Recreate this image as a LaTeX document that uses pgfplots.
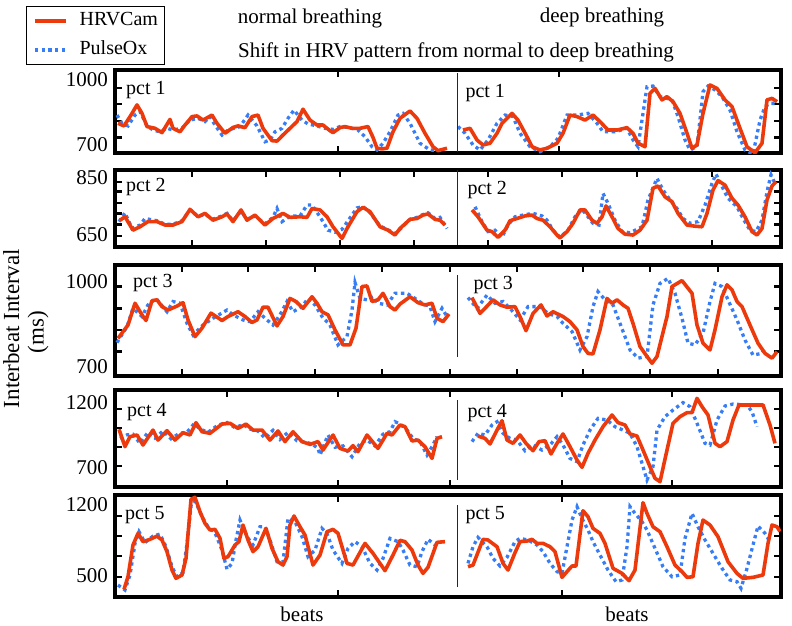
\documentclass[border=0pt]{standalone}
\usepackage{pgfplots}
\pgfplotsset{compat=1.18}
\usepackage{fontspec}
\setmainfont{Liberation Serif}
\definecolor{hrvred}{RGB}{236,58,12}
\definecolor{poxblue}{RGB}{55,125,245}
\newcommand{\fs}{\fontsize{21}{25}\selectfont}
\newcommand{\fsl}{\fontsize{20}{24}\selectfont}
\newcommand{\fsy}{\fontsize{23}{27}\selectfont}
\pgfplotsset{
 panel/.style={
  scale only axis, width=666pt, xmin=0, xmax=666,
  axis line style={line width=3.2pt, black, line cap=rect},
  tick style={line width=2.4pt, black},
  major tick length=7pt,
  xticklabels={}, yticklabels={},
  yticklabel pos=left,
  extra y tick style={tick style={draw=none}},
  tick label style={font=\fs},
  anchor=north west,
 },
}
\tikzset{
 hrv/.style={color=hrvred, line width=3.6pt, line join=round, mark=none},
 pox/.style={color=poxblue, line width=3.3pt, dash pattern=on 3.3pt off 3.5pt, mark=none},
 sep/.style={line width=0.8pt, black!85},
 pct/.style={anchor=west, inner sep=0pt, font=\fsl},
}
\begin{document}
\fs
\begin{tikzpicture}
% ---------------- panel 1
\begin{axis}[panel, at={(115pt,-70pt)}, height=83pt, ymin=663, ymax=1046,
  xtick={223,444}, ytick={735,811,888,964},
  extra y ticks={700,1000}, extra y tick labels={\textrm{700},\textrm{1000}},
  legend style={at={(axis description cs:-0.0293,1.771)}, anchor=north, draw=black, line width=0.9pt, font=\fsl, inner xsep=6.5pt, inner ysep=4.5pt, row sep=9pt, column sep=12pt, nodes={inner xsep=0pt, inner ysep=0pt, text height=15pt, text depth=5pt}},
  legend cell align=left,
  legend image code/.code={\draw[#1] (0pt,0pt) -- (31pt,0pt);}]
\addlegendimage{hrv}\addlegendentry{HRVCam}
\addlegendimage{pox}\addlegendentry{PulseOx}
\addplot[pox, forget plot] coordinates {(2,838)(7,800)(13,788)(20,838)(25,854)(32,788)(38,769)(45,761)(52,777)(58,769)(67,777)(75,815)(83,823)(90,808)(95,831)(100,792)(107,746)(113,769)(125,785)(133,838)(142,788)(150,715)(155,723)(160,761)(167,777)(173,823)(179,861)(187,815)(193,797)(202,788)(210,777)(218,772)(225,785)(235,780)(243,769)(250,738)(257,692)(262,677)(268,708)(275,761)(283,838)(288,846)(295,800)(305,708)(315,677)(323,674)};
\addplot[pox, forget plot] coordinates {(343,785)(350,754)(358,700)(365,677)(373,723)(382,800)(390,838)(398,831)(405,754)(415,692)(425,669)(435,692)(443,731)(452,838)(462,838)(473,846)(482,800)(488,761)(500,761)(512,777)(518,723)(523,692)(532,969)(538,972)(545,923)(552,915)(557,908)(563,831)(570,723)(575,677)(582,692)(588,946)(593,972)(600,954)(607,923)(615,861)(622,761)(630,677)(638,658)(645,815)(650,877)(655,892)(662,892)};
\addplot[hrv, forget plot] coordinates {(3,800)(9,788)(16,838)(22,885)(27,846)(32,785)(40,777)(47,757)(55,818)(58,777)(65,761)(70,792)(77,831)(82,834)(88,815)(97,838)(102,800)(110,754)(118,781)(123,788)(130,780)(137,831)(143,838)(148,777)(157,720)(162,718)(168,746)(175,777)(182,808)(188,865)(195,815)(202,792)(208,792)(215,766)(218,757)(225,780)(230,785)(237,777)(245,777)(253,785)(258,735)(262,685)(267,682)(272,685)(278,761)(285,823)(295,857)(302,823)(310,754)(318,692)(323,674)(332,685)};
\addplot[hrv, forget plot] coordinates {(348,769)(355,777)(362,723)(368,700)(375,708)(382,754)(387,800)(397,846)(403,815)(412,738)(417,692)(425,677)(432,685)(442,708)(448,754)(455,838)(462,831)(470,815)(478,838)(485,808)(493,769)(502,769)(512,780)(518,754)(523,708)(530,692)(535,938)(540,961)(547,908)(552,923)(558,900)(565,846)(572,754)(577,685)(582,700)(588,846)(595,977)(602,961)(610,908)(617,877)(625,777)(632,692)(640,664)(647,708)(652,908)(657,915)(662,900)};
\draw[sep] (axis cs:342,1032) -- (axis cs:342,668);
\node[pct] at (rel axis cs:0.0165,0.759) {pct 1};
\node[pct] at (rel axis cs:0.526,0.723) {pct 1};
\end{axis}
% ---------------- panel 2
\begin{axis}[panel, at={(115pt,-170pt)}, height=77pt, ymin=608, ymax=878,
  xtick={77,151,225,299,373,447,522,597}, ytick={646,687,726,763,802,837},
  extra y ticks={650,850}, extra y tick labels={\textrm{650},\textrm{850}}]
\addplot[pox] coordinates {(4,697)(10,728)(17,673)(25,685)(30,708)(42,700)(50,688)(58,688)(67,700)(75,738)(83,716)(90,722)(98,706)(107,717)(112,726)(118,700)(126,733)(132,706)(140,716)(150,690)(158,712)(162,743)(167,697)(175,716)(185,717)(192,755)(197,755)(205,714)(213,667)(220,660)(227,670)(233,700)(242,745)(248,750)(255,728)(265,682)(273,668)(280,655)(285,670)(295,705)(302,712)(308,722)(313,728)(320,708)(325,712)(332,673)};
\addplot[pox] coordinates {(360,749)(367,697)(373,662)(380,667)(387,642)(393,685)(400,714)(408,720)(418,726)(427,717)(432,702)(438,667)(445,642)(453,667)(460,714)(467,740)(473,714)(478,691)(484,685)(488,796)(493,761)(500,702)(507,662)(515,658)(527,679)(533,773)(542,849)(548,808)(555,773)(562,743)(568,708)(575,691)(583,697)(590,755)(597,831)(601,864)(607,820)(613,779)(622,749)(628,708)(635,667)(641,662)(647,702)(652,802)(656,861)(660,831)};
\addplot[hrv] coordinates {(5,702)(10,714)(18,667)(25,679)(33,697)(42,697)(50,685)(58,685)(67,697)(75,740)(83,714)(90,726)(98,702)(107,714)(112,724)(118,697)(126,738)(132,702)(140,720)(150,685)(158,708)(168,726)(175,712)(185,714)(192,712)(197,743)(205,738)(212,714)(218,679)(227,638)(233,679)(242,732)(248,747)(255,732)(265,679)(273,667)(280,650)(285,673)(295,705)(302,708)(308,720)(313,724)(320,705)(325,702)(330,685)};
\addplot[hrv] coordinates {(357,738)(363,714)(372,667)(377,662)(383,642)(390,667)(395,700)(402,708)(410,717)(417,720)(422,708)(428,702)(435,679)(442,650)(445,640)(452,662)(458,691)(465,738)(470,738)(477,702)(482,691)(487,714)(491,752)(497,714)(503,673)(510,653)(518,650)(525,667)(532,702)(538,814)(543,822)(550,784)(557,767)(563,726)(572,685)(580,681)(587,679)(592,726)(598,808)(603,841)(610,825)(617,779)(623,755)(630,714)(637,662)(642,650)(647,673)(652,773)(657,822)(661,837)};
\draw[sep] (axis cs:342,878) -- (axis cs:342,615);
\node[pct] at (rel axis cs:0.0165,0.779) {pct 2};
\node[pct] at (rel axis cs:0.529,0.740) {pct 2};
\end{axis}
% ---------------- panel 3
\begin{axis}[panel, at={(115pt,-265pt)}, height=111pt, ymin=668, ymax=1060,
  xtick={67,133,200,267,335,402,468,535,603}, ytick={754,831,907,984},
  extra y ticks={700,1000}, extra y tick labels={\textrm{700},\textrm{1000}}]
\addplot[pox] coordinates {(2,786)(12,842)(18,907)(27,878)(33,919)(41,942)(52,895)(58,931)(65,925)(72,854)(78,813)(88,848)(98,872)(112,901)(118,884)(128,866)(135,860)(143,895)(152,866)(158,848)(165,884)(172,931)(178,895)(187,913)(193,942)(200,919)(207,878)(215,848)(223,778)(232,807)(237,901)(240,998)(245,942)(252,937)(258,948)(263,925)(272,919)(280,960)(292,960)(300,942)(307,925)(315,913)(320,860)(327,907)(332,878)};
\addplot[pox] coordinates {(353,945)(362,907)(372,954)(380,925)(388,931)(395,907)(405,866)(413,913)(425,913)(433,889)(442,878)(448,854)(457,825)(465,760)(472,807)(478,913)(483,966)(490,937)(498,919)(505,854)(515,760)(523,731)(532,737)(538,919)(545,995)(553,1013)(560,960)(567,872)(573,784)(580,778)(588,819)(595,931)(600,995)(607,984)(613,937)(622,866)(630,795)(638,742)(647,748)(650,766)};
\addplot[hrv] coordinates {(3,801)(13,848)(20,925)(27,884)(31,864)(37,934)(42,937)(47,913)(53,901)(62,915)(68,927)(73,866)(80,807)(87,837)(96,890)(107,864)(113,878)(123,895)(130,878)(137,857)(142,866)(148,911)(153,911)(162,845)(168,878)(175,942)(181,931)(188,907)(197,948)(202,925)(207,895)(213,884)(220,831)(228,778)(235,778)(241,837)(247,984)(252,986)(257,931)(263,937)(268,960)(275,913)(280,901)(285,922)(295,948)(303,927)(310,919)(317,925)(322,872)(328,860)(334,887)};
\addplot[hrv] coordinates {(357,945)(365,889)(370,907)(378,937)(385,919)(392,911)(400,913)(405,878)(411,828)(418,889)(426,919)(432,880)(438,895)(448,878)(455,860)(462,831)(468,772)(473,748)(478,746)(485,831)(492,942)(497,925)(502,937)(508,919)(513,907)(518,854)(525,772)(532,737)(537,713)(542,737)(552,878)(557,984)(567,1005)(577,960)(582,848)(588,784)(595,760)(600,831)(607,948)(612,990)(617,972)(622,931)(627,913)(635,848)(643,784)(650,748)(657,731)(662,754)};
\draw[sep] (axis cs:342,1025) -- (axis cs:342,735);
\node[pct] at (rel axis cs:0.027,0.838) {pct 3};
\node[pct] at (rel axis cs:0.538,0.820) {pct 3};
\end{axis}
% ---------------- panel 4
\begin{axis}[panel, at={(115pt,-390pt)}, height=97pt, ymin=554, ymax=1300,
  xtick={112,223,335,447,557}, ytick={715,864,1010,1154},
  extra y ticks={700,1200}, extra y tick labels={\textrm{700},\textrm{1200}}]
\addplot[pox] coordinates {(5,928)(12,955)(18,960)(25,890)(33,975)(40,930)(48,985)(56,925)(64,965)(72,975)(79,1040)(85,1000)(93,975)(103,1030)(112,1050)(120,1010)(128,1035)(135,1000)(143,985)(150,930)(158,990)(165,920)(173,975)(182,910)(190,900)(197,885)(203,851)(205,800)(213,954)(220,860)(228,870)(237,787)(245,890)(252,915)(260,870)(268,960)(275,980)(280,1056)(285,1040)(292,992)(298,928)(305,903)(312,800)(317,864)(322,941)};
\addplot[pox] coordinates {(357,903)(363,967)(370,954)(377,1031)(382,1056)(388,967)(395,928)(402,915)(410,833)(418,877)(427,838)(435,877)(442,941)(448,877)(455,774)(462,749)(468,877)(475,992)(483,1082)(492,1069)(500,1018)(508,992)(515,967)(522,864)(527,736)(532,608)(538,710)(542,992)(550,1095)(558,1146)(568,1203)(575,1172)(582,1044)(590,890)(595,877)(602,1069)(610,1177)(618,1192)(632,1185)(637,1133)(642,1018)};
\addplot[hrv] coordinates {(4,998)(10,864)(15,941)(22,954)(28,877)(38,992)(43,915)(52,987)(60,915)(68,972)(75,954)(81,1049)(87,979)(95,967)(107,1038)(115,1044)(123,1005)(131,1038)(138,992)(147,992)(155,915)(163,985)(170,903)(178,979)(187,903)(195,882)(203,903)(208,838)(218,954)(225,851)(233,831)(238,872)(243,826)(252,954)(263,851)(272,967)(277,954)(285,1031)(290,1018)(297,908)(303,915)(310,864)(317,774)(322,928)(327,941)};
\addplot[hrv] coordinates {(363,946)(370,928)(375,885)(382,992)(387,1064)(392,915)(398,890)(405,954)(411,890)(418,833)(424,903)(430,910)(436,808)(442,890)(448,962)(455,864)(462,762)(467,705)(473,813)(480,915)(488,1018)(497,1108)(503,1049)(510,1031)(515,962)(522,946)(528,838)(535,710)(540,621)(545,595)(552,838)(558,1044)(565,1095)(572,1126)(577,1126)(582,1236)(587,1172)(593,1108)(600,890)(605,864)(612,903)(618,1069)(624,1185)(648,1185)(655,1031)(660,890)};
\draw[sep] (axis cs:342,1223) -- (axis cs:342,608);
\node[pct] at (rel axis cs:0.018,0.773) {pct 4};
\node[pct] at (rel axis cs:0.529,0.763) {pct 4};
\end{axis}
% ---------------- panel 5
\begin{axis}[panel, at={(115pt,-495pt)}, height=102pt, ymin=293, ymax=1299,
  xtick={223,447}, ytick={493,697,894,1092},
  extra y ticks={500,1200}, extra y tick labels={\textrm{500},\textrm{1200}}]
\addplot[pox] coordinates {(3,411)(10,362)(15,510)(20,822)(24,937)(30,829)(38,894)(45,914)(51,789)(57,592)(62,493)(68,533)(72,822)(77,1276)(82,1200)(87,1085)(93,986)(100,927)(107,756)(112,566)(117,625)(121,855)(125,1052)(132,888)(138,806)(145,986)(150,986)(155,855)(162,641)(168,641)(173,1069)(180,1036)(187,888)(193,691)(200,756)(207,970)(212,920)(218,756)(227,625)(233,773)(240,839)(247,789)(255,625)(262,559)(268,674)(275,871)(283,839)(288,756)(295,608)(302,592)(307,740)(313,862)(320,806)};
\addplot[pox] coordinates {(353,625)(358,789)(363,881)(372,789)(378,674)(385,599)(392,684)(400,839)(405,871)(413,855)(422,806)(428,740)(435,625)(442,543)(447,526)(452,789)(457,1052)(462,1184)(467,1069)(473,954)(478,839)(485,707)(493,559)(501,444)(507,461)(512,789)(515,1184)(520,1118)(527,1036)(532,954)(540,773)(548,592)(557,493)(565,510)(570,871)(577,1118)(583,986)(590,855)(598,724)(607,576)(615,461)(622,444)(626,379)(632,576)(638,806)(643,993)(650,921)(655,839)};
\addplot[hrv] coordinates {(9,368)(13,494)(18,806)(23,921)(28,839)(35,862)(42,894)(47,855)(52,740)(57,559)(61,477)(67,510)(71,674)(76,1256)(80,1276)(85,1134)(90,1019)(95,954)(100,960)(105,872)(109,674)(113,691)(120,806)(124,839)(128,1003)(133,855)(138,740)(143,789)(151,970)(157,773)(163,641)(168,608)(172,691)(175,1003)(179,1092)(185,986)(190,904)(198,608)(205,707)(212,937)(218,960)(223,921)(232,625)(238,608)(250,822)(258,724)(270,553)(278,707)(285,852)(290,839)(297,756)(303,608)(308,526)(313,586)(322,832)(330,839)};
\addplot[hrv] coordinates {(353,592)(358,608)(368,862)(373,855)(382,789)(388,625)(393,559)(400,730)(405,839)(412,845)(417,862)(422,822)(428,822)(435,789)(440,740)(447,487)(452,543)(457,599)(461,599)(468,1144)(473,1085)(478,970)(485,921)(490,822)(498,576)(507,526)(514,454)(520,559)(528,1223)(532,1118)(538,986)(545,937)(552,789)(560,608)(567,543)(572,487)(578,493)(583,822)(588,1052)(595,1003)(603,888)(613,641)(622,526)(628,477)(638,487)(648,510)(653,822)(657,1003)(662,986)(665,940)};
\draw[sep] (axis cs:342,1200) -- (axis cs:342,392);
\node[pct] at (rel axis cs:0.015,0.804) {pct 5};
\node[pct] at (rel axis cs:0.526,0.804) {pct 5};
\end{axis}
% ---------------- texts
\node[anchor=base, font=\fs] at (310pt,-23pt) {normal breathing};
\node[anchor=base, font=\fs] at (602pt,-22pt) {deep breathing};
\node[anchor=base, font=\fs] at (456pt,-57pt) {Shift in HRV pattern from normal to deep breathing};
\node[rotate=90, anchor=base, font=\fsy] at (19pt,-328.5pt) {Interbeat Interval};
\node[rotate=90, anchor=base, font=\fsy] at (43.5pt,-332pt) {(ms)};
\node[anchor=base, font=\fs] at (302pt,-621pt) {beats};
\node[anchor=base, font=\fs] at (627pt,-621pt) {beats};
\pgfresetboundingbox
\useasboundingbox (0pt,0pt) rectangle (792pt,-625pt);
\end{tikzpicture}
\end{document}
